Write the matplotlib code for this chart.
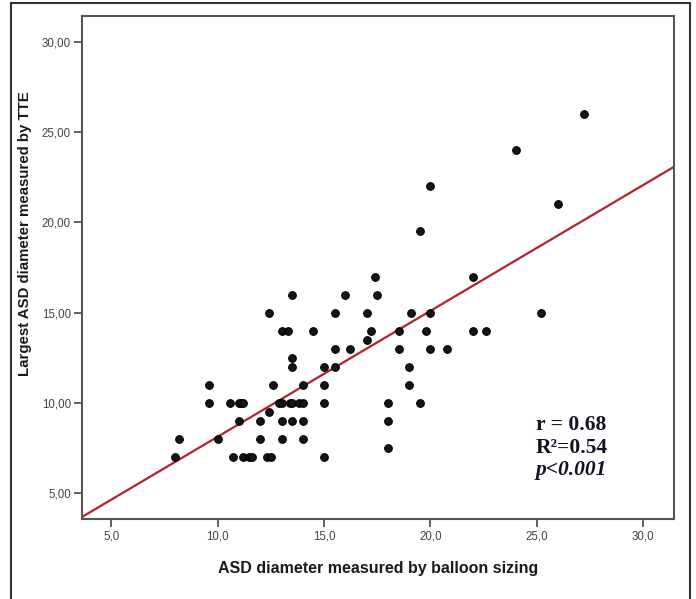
import matplotlib.pyplot as plt
from matplotlib.patches import Rectangle
import numpy as np

# balloon sizing (x) vs largest TTE diameter (y)
balloon = [
    27.2, 24.0, 20.0, 26.0, 19.5,
    17.4, 22.0,
    13.5, 16.0, 17.5,
    12.4, 15.5, 17.0, 19.1, 20.0, 25.2,
    13.0, 13.3, 14.5, 17.2, 18.5, 19.8, 22.0, 22.6,
    17.0,
    15.5, 16.2, 18.5, 20.0, 20.8,
    13.5,
    13.5, 15.0, 15.5, 19.0,
    9.6, 12.6, 14.0, 15.0, 19.0,
    9.6, 10.6, 11.0, 11.1, 11.2, 12.9, 13.0, 13.4, 13.5, 13.8, 14.0, 15.0, 18.0, 19.5,
    12.4,
    11.0, 12.0, 13.0, 13.5, 14.0, 18.0,
    8.2, 10.0, 12.0, 13.0, 14.0,
    18.0,
    8.0, 10.7, 11.2, 11.45, 11.6, 12.3, 12.5, 15.0,
]
tte = [
    26, 24, 22, 21, 19.5,
    17, 17,
    16, 16, 16,
    15, 15, 15, 15, 15, 15,
    14, 14, 14, 14, 14, 14, 14, 14,
    13.5,
    13, 13, 13, 13, 13,
    12.5,
    12, 12, 12, 12,
    11, 11, 11, 11, 11,
    10, 10, 10, 10, 10, 10, 10, 10, 10, 10, 10, 10, 10, 10,
    9.5,
    9, 9, 9, 9, 9, 9,
    8, 8, 8, 8, 8,
    7.5,
    7, 7, 7, 7, 7, 7, 7, 7,
]

# fit line as printed on the chart
fit_intercept = 1.145
fit_slope = 0.6975

x_ticks = [5, 10, 15, 20, 25, 30]
x_labels = ['5,0', '10,0', '15,0', '20,0', '25,0', '30,0']
y_ticks = [5, 10, 15, 20, 25, 30]
y_labels = ['5,00', '10,00', '15,00', '20,00', '25,00', '30,00']

stats_lines = ['r = 0.68', 'R\u00b2=0.54', 'p<0.001']


def main():
    fig = plt.figure(figsize=(6.96, 5.99), dpi=100)
    ax = fig.add_axes([0.1178, 0.1336, 0.8506, 0.8397])

    xlim = (3.62, 31.45)
    ylim = (3.56, 31.44)
    ax.set_xlim(*xlim)
    ax.set_ylim(*ylim)

    ax.scatter(balloon, tte, s=30, c='#151515', edgecolors='black',
               linewidths=0.8, zorder=3)

    xs = np.array(xlim)
    ax.plot(xs, fit_intercept + fit_slope * xs, color='#b3222e', lw=1.6, zorder=2)

    ax.set_xticks(x_ticks)
    ax.set_xticklabels(x_labels)
    ax.set_yticks(y_ticks)
    ax.set_yticklabels(y_labels)
    ax.tick_params(direction='out', length=6, width=1.3, color='#555555',
                   labelcolor='#444444', labelsize=8.3, pad=2)
    for lab in ax.get_xticklabels() + ax.get_yticklabels():
        lab.set_family('Liberation Sans')

    for sp in ax.spines.values():
        sp.set_color('#555555')
        sp.set_linewidth(1.5)

    ax.set_xlabel('ASD diameter measured by balloon sizing', fontsize=11.5,
                  fontweight='bold', family='Liberation Sans', color='#1a1a1a')
    ax.set_ylabel('Largest ASD diameter measured by TTE', fontsize=10.8,
                  fontweight='bold', family='Liberation Sans', color='#1a1a1a')
    ax.xaxis.set_label_coords(0.5, -0.0835)
    ax.yaxis.set_label_coords(-0.0845, 0.5676)

    # statistics box
    ax.text(24.95, 8.77, stats_lines[0], fontsize=15.5, fontweight='bold',
            family='Liberation Serif', color='#111122', va='center', ha='left')
    ax.text(24.95, 7.49, stats_lines[1], fontsize=15.5, fontweight='bold',
            family='Liberation Serif', color='#111122', va='center', ha='left')
    ax.text(24.95, 6.27, stats_lines[2], fontsize=15.5, fontweight='bold',
            style='italic', family='Liberation Serif', color='#111122',
            va='center', ha='left')

    # outer frame around the figure
    fig.patches.append(Rectangle((11 / 696, -0.02), 679 / 696, 1.015,
                                 transform=fig.transFigure, fill=False,
                                 edgecolor='#333333', lw=1.5))

    fig.savefig('out.png', dpi=100)


if __name__ == "__main__":
    main()
